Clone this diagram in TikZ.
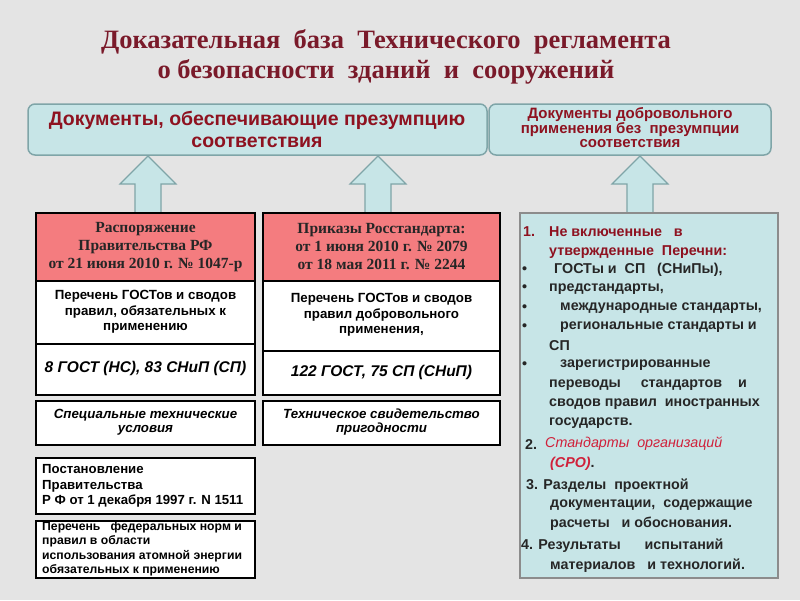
\documentclass[tikz,border=0pt]{standalone}
\usepackage{fontspec}
\setmainfont{Liberation Serif}
\setsansfont{Liberation Sans}
\definecolor{bg}{HTML}{E4E4E4}
\definecolor{dred}{HTML}{7A1A2A}
\definecolor{tred}{HTML}{8E1220}
\definecolor{cyanf}{HTML}{C7E5E7}
\definecolor{cyanb}{HTML}{7FA5A8}
\definecolor{pink}{HTML}{F47C7F}
\definecolor{ired}{HTML}{D0203A}
\tikzset{
 topbox/.style={draw=cyanb,line width=1.5pt,fill=cyanf,rounded corners=7pt},
 upar/.style={draw=cyanb,line width=1.2pt,fill=cyanf},
 blk/.style={draw=black,line width=2pt},
 wtxt/.style={font=\sffamily\bfseries\fontsize{13.3}{15.5}\selectfont,align=center},
 ltxt/.style={align=left,anchor=west,inner sep=0},
 rl/.style={font=\sffamily\bfseries\fontsize{14.3}{16}\selectfont,anchor=west,inner sep=0,text=black!85},
}
\newcommand{\myuparrow}[3]{% x, tip y, base y
 \draw[upar] (#1-13,#3) -- (#1-13,#2+28) -- (#1-28,#2+28) -- (#1,#2) -- (#1+28,#2+28) -- (#1+13,#2+28) -- (#1+13,#3) -- cycle;}
\begin{document}
\begin{tikzpicture}[x=1pt,y=-1pt]
\fill[bg] (0,0) rectangle (800,600);
\useasboundingbox (0,0) rectangle (800,600);
\node[text=dred,font=\rmfamily\bfseries\fontsize{26.5}{30}\selectfont,align=center] (title) at (386,57)
 {Доказательная\ \ база\ \ Технического\ \ регламента\\о безопасности\ \ зданий\ \ и\ \ сооружений};
% top boxes
\draw[topbox] (28,104) rectangle (487,155);
\node[text=tred,font=\sffamily\bfseries\fontsize{19.5}{22}\selectfont,align=center] (t1) at (257,129)
 {Документы, обеспечивающие презумпцию\\соответствия};
\draw[topbox] (489,104) rectangle (771,155);
\node[text=tred,font=\sffamily\bfseries\fontsize{15}{14}\selectfont,align=center] (t2) at (630,128)
 {Документы добровольного\\применения без\ \ презумпции\\соответствия};
% arrows
\myuparrow{148}{156}{213}
\myuparrow{378}{156}{213}
\myuparrow{640}{156}{213}
% left column
\draw[blk,fill=pink] (36,213) rectangle (255,281);
\node[font=\rmfamily\bfseries\fontsize{15.5}{18}\selectfont,align=center,text=black!85] (lh) at (145.5,247)
 {Распоряжение\\Правительства РФ\\от 21 июня 2010 г. № 1047-р};
\draw[blk,fill=white] (36,281) rectangle (255,344);
\node[wtxt] (l1) at (145.5,312) {Перечень ГОСТов и сводов\\правил, обязательных к\\применению};
\draw[blk,fill=white] (36,344) rectangle (255,395);
\node[font=\sffamily\bfseries\itshape\fontsize{15.5}{17}\selectfont] (l2) at (145.5,368) {8 ГОСТ (НС), 83 СНиП (СП)};
\draw[blk,fill=white] (36,401) rectangle (255,445);
\node[font=\sffamily\bfseries\itshape\fontsize{13.3}{14}\selectfont,align=center] (l3) at (145.5,422) {Специальные технические\\условия};
\draw[blk,fill=white] (36,458) rectangle (255,514);
\node[ltxt,font=\sffamily\bfseries\fontsize{13.2}{15.5}\selectfont] (l4) at (42,486) {Постановление\\Правительства\\Р Ф от 1 декабря 1997 г. N 1511};
\draw[blk,fill=white] (36,521) rectangle (255,578);
\node[ltxt,font=\sffamily\bfseries\fontsize{12.2}{14.5}\selectfont] (l5) at (42,549) {Перечень\ \ \ федеральных норм и\\правил в области\\использования атомной энергии\\обязательных к применению};
% middle column
\draw[blk,fill=pink] (263,213) rectangle (500,281);
\node[font=\rmfamily\bfseries\fontsize{15.5}{18}\selectfont,align=center,text=black!85] (mh) at (381.5,247)
 {Приказы Росстандарта:\\от 1 июня 2010 г. № 2079\\от 18 мая 2011 г. № 2244};
\draw[blk,fill=white] (263,281) rectangle (500,351);
\node[wtxt] (m1) at (381.5,315) {Перечень ГОСТов и сводов\\правил добровольного\\применения,};
\draw[blk,fill=white] (263,351) rectangle (500,395);
\node[font=\sffamily\bfseries\itshape\fontsize{15.5}{17}\selectfont] (m2) at (381.5,372) {122 ГОСТ, 75 СП (СНиП)};
\draw[blk,fill=white] (263,401) rectangle (500,445);
\node[font=\sffamily\bfseries\itshape\fontsize{13.3}{14}\selectfont,align=center] (m3) at (381.5,422) {Техническое свидетельство\\пригодности};
% right box
\draw[draw=black!45,line width=2pt,fill=cyanf] (520,213) rectangle (778,578);
\node[rl,text=tred] (r0) at (523,232) {1.};
\node[rl,text=tred] (r1) at (549,232) {Не включенные\ \ \ в};
\node[rl,text=tred] (r2) at (549,252) {утвержденные\ \ Перечни:};
\foreach \yy in {270,288,308,327,365} \node[rl] at (522,\yy) {•};
\node[rl] (r3) at (554,270) {ГОСТы и\ \ СП\ \ \ (СНиПы),};
\node[rl] (r4) at (549,289) {предстандарты,};
\node[rl] (r5) at (560,308) {международные стандарты,};
\node[rl] (r6) at (560,327) {региональные стандарты и};
\node[rl] (r7) at (549,346) {СП};
\node[rl] (r8) at (560,365) {зарегистрированные};
\node[rl] (r9) at (549,385) {переводы\ \ \ \ \ стандартов\ \ \ \ и};
\node[rl] (r10) at (549,404) {сводов правил\ \ иностранных};
\node[rl] (r11) at (549,423) {государств.};
\node[rl] (r12) at (525,444) {2.};
\node[rl,text=ired,font=\sffamily\itshape\fontsize{14.3}{16}\selectfont] (r13) at (545,444) {Стандарты\ \ организаций};
\node[rl] (r14) at (550,464) {{\color{ired}\itshape (СРО)}.};
\node[rl] (r15) at (526,486) {3. Разделы\ \ проектной};
\node[rl] (r16) at (550,505) {документации,\ \ содержащие};
\node[rl] (r17) at (550,524) {расчеты\ \ \ и обоснования.};
\node[rl] (r18) at (521,546) {4. Результаты\ \ \ \ \ \ испытаний};
\node[rl] (r19) at (550,566) {материалов\ \ \ и технологий.};
\end{tikzpicture}
\end{document}
